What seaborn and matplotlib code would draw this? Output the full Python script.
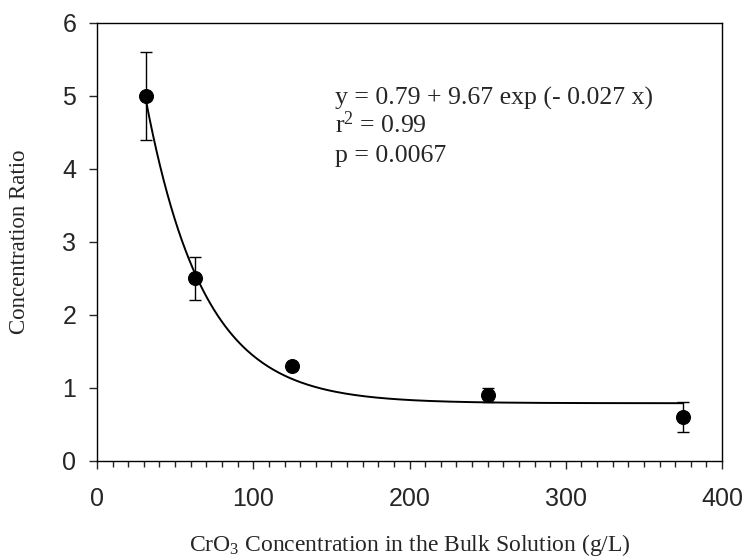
import numpy as np
import pandas as pd
import matplotlib
matplotlib.use("Agg")
import matplotlib.pyplot as plt
from matplotlib.ticker import MultipleLocator
import seaborn as sns

# data
conc = [31.25, 62.5, 125, 250, 375]
ratio = [5.0, 2.5, 1.3, 0.9, 0.6]
err = [0.6, 0.3, 0.0, 0.1, 0.2]
# fitted model parameters shown on chart
fit_a, fit_b, fit_k = 0.79, 9.67, 0.027
x_ticks = [0, 100, 200, 300, 400]
y_ticks = [0, 1, 2, 3, 4, 5, 6]

sns.set_style("ticks")
plt.rcParams["mathtext.fontset"] = "custom"
plt.rcParams["mathtext.rm"] = "Liberation Serif"
plt.rcParams["mathtext.it"] = "Liberation Serif:italic"

fig = plt.figure(figsize=(7.46, 5.6), dpi=100)
ax = fig.add_axes([0.130, 0.177, 0.838, 0.782])

xf = np.linspace(min(conc), max(conc), 300)
fit_df = pd.DataFrame({"x": xf, "y": fit_a + fit_b * np.exp(-fit_k * xf)})
sns.lineplot(data=fit_df, x="x", y="y", ax=ax, color="black", lw=1.4)

df = pd.DataFrame({"x": conc, "y": ratio, "e": err})
ax.errorbar(df["x"], df["y"], yerr=df["e"], fmt="none", ecolor="black",
            elinewidth=1.0, capsize=4, capthick=1.0)
sns.scatterplot(data=df, x="x", y="y", ax=ax, color="black", s=100,
                edgecolor="black", zorder=5)

ax.set_xlim(0, 400)
ax.set_ylim(0, 6)
ax.set_xticks(x_ticks)
ax.set_yticks(y_ticks)
ax.xaxis.set_minor_locator(MultipleLocator(10))
ax.tick_params(axis="both", which="major", direction="out", length=6,
               width=1, labelsize=18)
ax.tick_params(axis="x", which="major", pad=13)
ax.tick_params(axis="y", which="major", pad=9)
ax.tick_params(axis="x", which="minor", direction="out", length=4, width=1)
for lab in ax.get_xticklabels() + ax.get_yticklabels():
    lab.set_fontfamily("Liberation Sans")
for s in ax.spines.values():
    s.set_linewidth(1.0)
    s.set_color("black")

serif = "Liberation Serif"
ax.set_xlabel(r"CrO$_3$ Concentration in the Bulk Solution (g/L)",
              fontfamily=serif, fontsize=17)
ax.set_ylabel("Concentration Ratio", fontfamily=serif, fontsize=16.5)
ax.xaxis.set_label_coords(0.5, -0.163)
ax.yaxis.set_label_coords(-0.107, 0.5)

ax.text(0.381, 0.813, "y = 0.79 + 9.67 exp (- 0.027 x)", transform=ax.transAxes,
        fontfamily=serif, fontsize=18.5, va="baseline")
ax.text(0.381, 0.749, r"r$^2$ = 0.99", transform=ax.transAxes,
        fontfamily=serif, fontsize=18.5, va="baseline")
ax.text(0.381, 0.683, "p = 0.0067", transform=ax.transAxes,
        fontfamily=serif, fontsize=18.5, va="baseline")

fig.savefig("out.png", dpi=100)
